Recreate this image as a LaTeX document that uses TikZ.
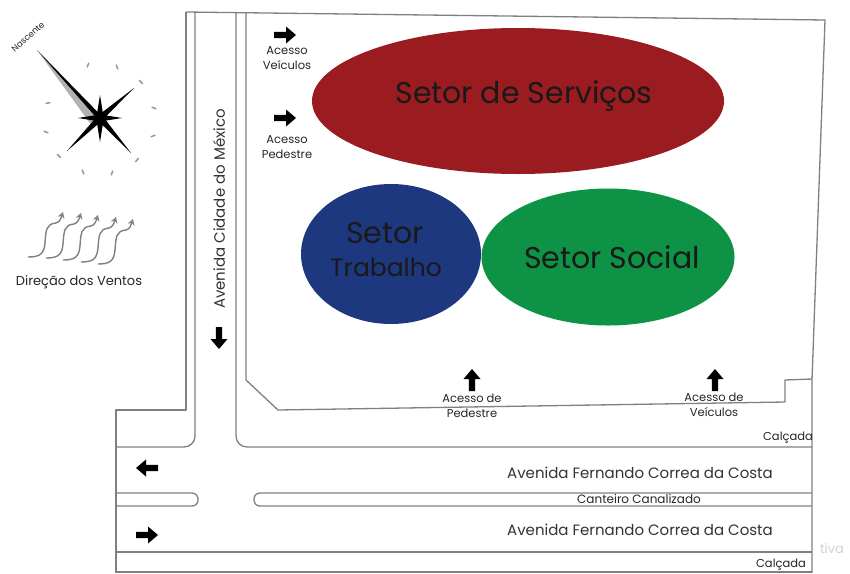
\documentclass[tikz,border=0pt]{standalone}
\usepackage{fontspec}
\setmainfont{Poppins}
\usetikzlibrary{shapes.geometric,arrows.meta,calc}
\tikzset{
  road/.style={draw=black!50,line width=1.3pt,line join=round},
  zone/.style={draw=none,ellipse},
  zonetext/.style={font=\fontsize{30}{34}\selectfont,text=black!90,align=center,inner sep=0pt},
  street/.style={font=\fontsize{15}{17}\selectfont,text=black!80,inner sep=0pt},
  small/.style={font=\fontsize{11.5}{15}\selectfont,text=black!85,align=center,inner sep=0pt},
  wind/.style={draw=black!50,line width=1.4pt,-{Stealth[length=6pt,width=7pt,open]}},
}
\newcommand{\blockarrow}[4]{% name, x, y, angle
  \coordinate (#1) at (#2,#3);
  \fill[black,shift={(#1)},rotate=#4] (-11,-3.2) -- (1,-3.2) -- (1,-8.5) -- (11,0) -- (1,8.5) -- (1,3.2) -- (-11,3.2) -- cycle;}
\newcommand{\spike}[3]{% x, y of tip, half-width fraction
  \fill[black] (cc) -- ($(cc)!#3!90:(#1,#2)$) -- (#1,#2) -- ($(cc)!#3!-90:(#1,#2)$) -- cycle;}
\begin{document}
\begin{tikzpicture}[x=1pt,y=-1pt]
\useasboundingbox (0,0) rectangle (850,573);
\fill[white] (0,0) rectangle (850,573);
% roads
\draw[road] (186,12) -- (825,20) -- (812,380) -- (812,573);
\draw[road] (186,12) -- (186,410) -- (116,410) -- (116,573);
\draw[road] (195,12) -- (195,436) to[out=270,in=0] (184,447) -- (116,447);
\draw[road] (236,13) -- (236,436) to[out=270,in=180] (247,447) -- (812,447);
\draw[road] (246,13) -- (246,380) -- (278,410) -- (785,402) -- (785,380) -- (812,379);
\draw[road] (116,493) -- (192,493) to[out=0,in=0,looseness=1.6] (192,506) -- (116,506);
\draw[road] (812,493) -- (260,493) to[out=180,in=180,looseness=1.6] (260,506) -- (812,506);
\draw[road] (116,552) -- (812,552);
\draw[road] (116,572) -- (812,572);
% zones
\node[zone,fill={rgb,255:red,155;green,28;blue,32},minimum width=412pt,minimum height=146pt] (serv) at (518,101) {};
\node[zone,fill={rgb,255:red,30;green,56;blue,128},minimum width=180pt,minimum height=140pt] (trab) at (391,254) {};
\node[zone,fill={rgb,255:red,14;green,146;blue,70},minimum width=253pt,minimum height=137pt] (soc) at (608,257) {};
\node[zonetext] (tserv) at (524,96) {Setor de Serviços};
\node[zonetext] (ttrab1) at (385,233) {Setor};
\node[zonetext,font=\fontsize{25}{29}\selectfont] (ttrab2) at (386,267) {Trabalho};
\node[zonetext] (tsoc) at (612,257) {Setor Social};
% arrows
\blockarrow{a1}{285}{35}{0}
\blockarrow{a2}{285}{118}{0}
\blockarrow{a3}{219}{338}{-90}
\blockarrow{a4}{147}{468}{180}
\blockarrow{a5}{147}{535}{0}
\blockarrow{a6}{472}{380}{90}
\blockarrow{a7}{715}{380}{90}
% small labels
\node[small] (l1) at (287,58) {Acesso\\Veículos};
\node[small] (l2) at (287,147) {Acesso\\Pedestre};
\node[small] (l3) at (472,406) {Acesso de\\Pedestre};
\node[small] (l4) at (714,405) {Acesso de\\Veículos};
\node[small] (l5) at (788,438) {Calçada};
\node[small] (l6) at (781,565) {Calçada};
\node[small,font=\fontsize{13}{15}\selectfont] (l7) at (79,282) {Direção dos Ventos};
\node[street,rotate=90] (s1) at (219,209) {Avenida Cidade do México};
\node[street] (s2) at (640,473) {Avenida Fernando Correa da Costa};
\node[street] (s3) at (640,530) {Avenida Fernando Correa da Costa};
\node[small,font=\fontsize{12}{14}\selectfont] (s4) at (639,499) {Canteiro Canalizado};
\node[small,rotate=42,font=\fontsize{8.5}{10}\selectfont] (n) at (28,37) {Nascente};
\node[small,text=black!18,font=\fontsize{13}{15}\selectfont] (w) at (832,549) {tiva};
% compass
\coordinate (cc) at (100,118);
\fill[black!30] (cc) -- (37,50) -- (92,126) -- cycle;
\spike{37}{50}{0.027}
\spike{134}{88}{0.07}
\spike{67}{151}{0.07}
\spike{131}{153}{0.07}
\spike{100}{95}{0.16}
\spike{100}{142}{0.16}
\spike{78}{118}{0.16}
\spike{122}{118}{0.16}
\foreach \x/\y/\a in {88/65/70,117/67/110,141/82/135,154/108/160,153/136/20,137/160/50,112/173/70,83/172/110,59/156/135,46/132/160,48/103/10}{
  \draw[black!40,line width=1.5pt,shift={(\x,\y)},rotate=\a] (-2.5,0) -- (2.5,0);
}
% winds
\foreach \d/\e in {0/0,18/1,35/3,53/5,70/7}{
  \draw[wind,shift={(\d,\e)}] (28,257) .. controls (40,257) and (44,254) .. (45,243) .. controls (46,230) and (46,224) .. (56,223) .. controls (60,222) and (61,218) .. (63,212);
}
\end{tikzpicture}
\end{document}
